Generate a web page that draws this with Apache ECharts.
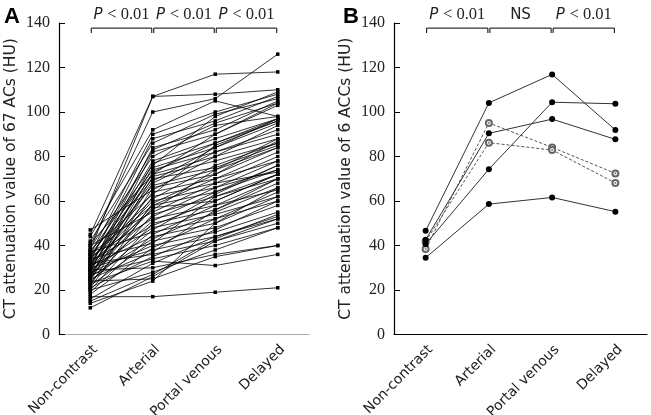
<!DOCTYPE html>
<html><head><meta charset="utf-8">
<script src="https://cdn.jsdelivr.net/npm/echarts@6/dist/echarts.min.js"></script>
<style>html,body{margin:0;padding:0;background:#fff}#c{width:651px;height:415px}</style>
</head><body><div id="c"></div><script>
const categories = ['Non-contrast', 'Arterial', 'Portal venous', 'Delayed'];
const yTicks = { min: 0, max: 140, interval: 20 };

// Panel A: 67 ACs
const nonContrastA = [38,45,40,36,33,42,30,34,28,39,31,25,37,29,35,26,41,32,24,36,30,27,33,22,47,29,38,25,34,31,21,28,36,26,32,40,23,30,35,27,20,33,29,24,37,19,31,26,22,34,28,18,30,25,32,21,27,23,16,29,20,15,24,14,12,17,44];
const arterialA    = [107,107,100,90,88,86,84,83,82,80,78,77,76,75,74,73,72,72,71,70,69,68,67,66,65,64,63,62,61,60,59,58,58,57,56,55,54,53,52,51,50,49,48,47,46,45,44,43,42,41,40,39,38,37,36,35,34,33,32,30,28,27,25,24,26,17,92];
const portalA      = [117,108,106,100,96,99,92,95,90,94,88,86,98,84,82,86,80,90,78,75,84,82,74,72,80,70,85,68,76,66,72,70,64,60,74,68,62,66,58,64,56,60,54,63,52,58,50,55,48,62,46,52,44,56,42,47,40,31,44,36,38,43,35,50,42,19,105];
const delayedA     = [118,110,126,108,107,106,105,104,103,98,97,96,109,95,92,97,88,104,86,85,97,90,84,87,94,78,96,80,86,74,84,82,76,72,88,73,70,78,65,74,68,72,62,76,60,70,62,66,58,72,55,64,52,70,50,60,48,36,53,40,48,54,40,66,52,21,98];

// Panel B: 6 ACCs
const nonContrastB = [46.6, 42.6, 40.6, 34.5, 38.4, 41.8];
const arterialB    = [104.1, 90.4, 74.3, 58.6, 95.1, 86.2];
const portalB      = [116.9, 96.8, 104.4, 61.6, 84.1, 82.9];
const delayedB     = [91.9, 87.7, 103.7, 55.2, 72.4, 68.1];
const dashedB      = [false, false, false, false, true, true];

const bracketLabelsA = ['P < 0.01', 'P < 0.01', 'P < 0.01'];
const bracketLabelsB = ['P < 0.01', 'NS', 'P < 0.01'];
const bracketLevel = [137.7, 135.5];

const chart = echarts.init(document.getElementById('c'));

function xAxisCfg(gi, color) {
  return {
    type: 'category', gridIndex: gi, data: categories, boundaryGap: true,
    axisLine: { lineStyle: { color: color, width: 1.2 } },
    axisTick: { inside: true, length: 7, lineStyle: { color: color } },
    axisLabel: { rotate: 45, fontFamily: 'DejaVu Sans', fontSize: 14, color: '#222', margin: 8, interval: 0, verticalAlign: 'top' },
    splitLine: { show: false }
  };
}
function yAxisCfg(gi, name) {
  return {
    type: 'value', gridIndex: gi, min: yTicks.min, max: yTicks.max, interval: yTicks.interval,
    name: name, nameLocation: 'middle', nameGap: 40,
    nameTextStyle: { fontFamily: 'DejaVu Sans', fontSize: 15.5, color: '#222' },
    axisLine: { show: true, lineStyle: { color: '#000', width: 1.2 } },
    axisTick: { show: true, inside: true, length: 6, lineStyle: { color: '#000' } },
    axisLabel: { fontFamily: 'Liberation Serif', fontSize: 16, color: '#222', margin: 9 },
    splitLine: { show: false }
  };
}

function bracketSeries(gi, labels) {
  return {
    type: 'custom', xAxisIndex: gi, yAxisIndex: gi, clip: false, silent: true,
    data: labels.map((t, i) => [i, bracketLevel[0], t]),
    renderItem: function (params, api) {
      const i = api.value(0);
      const a = api.coord([i, bracketLevel[0]]);
      const b = api.coord([i + 1, bracketLevel[0]]);
      const low = api.coord([i, bracketLevel[1]]);
      const x0 = a[0] + 1, x1 = b[0] - 1;
      const t = labels[i];
      const txt = t === 'NS' ? 'NS' : '{i|P} {s|< 0.01}';
      return {
        type: 'group',
        children: [
          { type: 'polyline', shape: { points: [[x0, low[1]], [x0, a[1]], [x1, a[1]], [x1, low[1]]] },
            style: { stroke: '#000', lineWidth: 1, fill: null } },
          { type: 'text', x: (x0 + x1) / 2, y: a[1] - 13,
            style: { text: txt, align: 'center', verticalAlign: 'middle',
              fontFamily: 'DejaVu Sans', fontSize: 15, fill: '#222',
              rich: { i: { fontFamily: 'DejaVu Sans', fontStyle: 'italic', fontSize: 15, fill: '#222' },
                      s: { fontFamily: 'Liberation Serif', fontSize: 16.5, fill: '#222' } } } }
        ]
      };
    }
  };
}

const series = [];
for (let k = 0; k < nonContrastA.length; k++) {
  series.push({
    type: 'line', xAxisIndex: 0, yAxisIndex: 0, silent: true,
    data: [nonContrastA[k], arterialA[k], portalA[k], delayedA[k]],
    symbol: 'rect', symbolSize: 3.5, showSymbol: true,
    lineStyle: { color: '#000', width: 0.8 }, itemStyle: { color: '#000' }
  });
}
for (let k = 0; k < nonContrastB.length; k++) {
  const d = [nonContrastB[k], arterialB[k], portalB[k], delayedB[k]];
  series.push({
    type: 'line', xAxisIndex: 1, yAxisIndex: 1, silent: true, data: d,
    symbol: dashedB[k] ? 'emptyCircle' : 'circle', symbolSize: 6,
    z: dashedB[k] ? 2 : 3,
    lineStyle: { color: dashedB[k] ? '#555' : '#333', width: 1, type: dashedB[k] ? [3, 2] : 'solid' },
    itemStyle: { color: dashedB[k] ? '#666' : '#000', borderWidth: 1 }
  });
  if (dashedB[k]) {
    series.push({
      type: 'scatter', xAxisIndex: 1, yAxisIndex: 1, silent: true, data: d,
      symbol: 'circle', symbolSize: 2.2, itemStyle: { color: '#666' }, z: 2
    });
  }
}
series.push(bracketSeries(0, bracketLabelsA));
series.push(bracketSeries(1, bracketLabelsB));

chart.setOption({
  animation: false,
  backgroundColor: '#fff',
  grid: [
    { left: 59, top: 23, width: 250, height: 311.5, containLabel: false, outerBoundsMode: 'none' },
    { left: 394, top: 23, width: 253, height: 311.5, containLabel: false, outerBoundsMode: 'none' }
  ],
  xAxis: [xAxisCfg(0, '#aaa'), xAxisCfg(1, '#000')],
  yAxis: [yAxisCfg(0, 'CT attenuation value of 67 ACs (HU)'), yAxisCfg(1, 'CT attenuation value of 6 ACCs (HU)')],
  graphic: [
    { type: 'text', left: 4, top: 6, style: { text: 'A', fontFamily: 'Liberation Sans', fontWeight: 'bold', fontSize: 22, fill: '#000' } },
    { type: 'text', left: 343, top: 6, style: { text: 'B', fontFamily: 'Liberation Sans', fontWeight: 'bold', fontSize: 22, fill: '#000' } }
  ],
  series: series
});
</script></body></html>
